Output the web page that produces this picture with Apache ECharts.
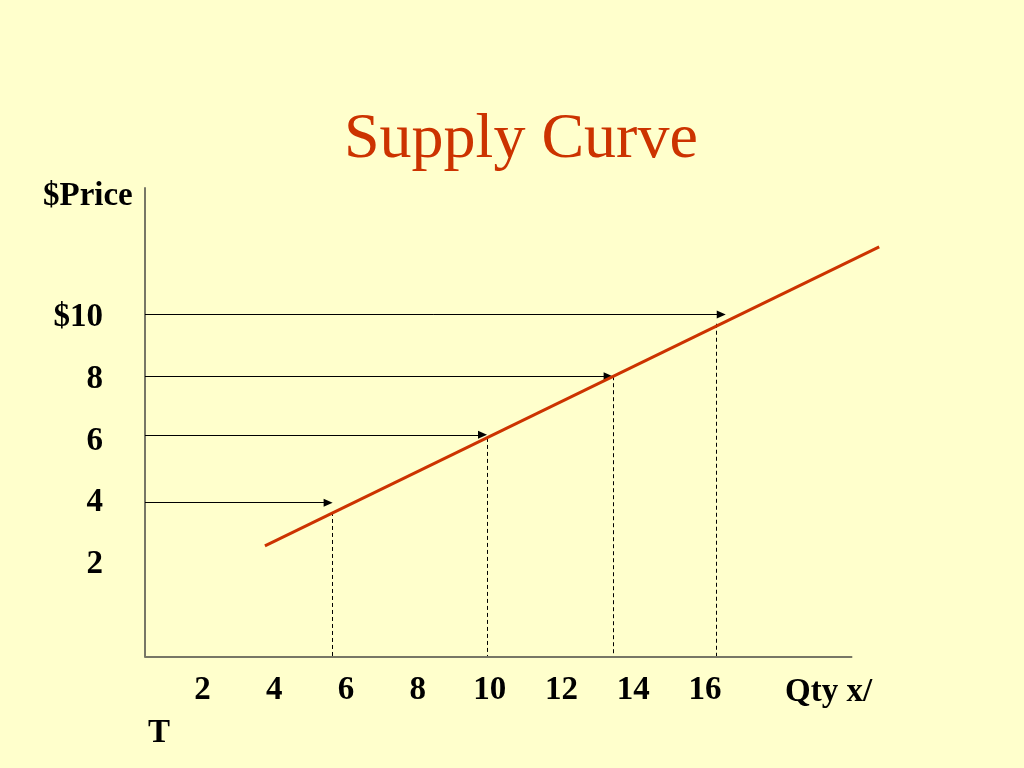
<!DOCTYPE html>
<html>
<head>
<meta charset="utf-8">
<script src="https://cdn.jsdelivr.net/npm/echarts@6/dist/echarts.min.js"></script>
<style>
html,body{margin:0;padding:0;background:#FFFFCC;}
#chart{width:1024px;height:768px;}
</style>
</head>
<body>
<div id="chart"></div>
<script>
// ---- data ----
const qtyLabels = [2, 4, 6, 8, 10, 12, 14, 16];
const priceLabels = [2, 4, 6, 8, 10];
const supplyQty = [3.74, 20.85];
const supplyPrice = [2.6, 12.29];
const arrowPrice = [4.0, 6.2, 8.1, 10.1];
const arrowEndQty = [5.5, 9.8, 13.3, 16.45];
const dashQty = [5.61, 9.93, 13.44, 16.31];
const dashTopPrice = [3.7, 6.1, 8.1, 9.8];
const xAxisEnd = 20.1;

const X_MIN = 0.4, X_MAX = 20.9, Y_MIN = -1, Y_MAX = 14.2;
const FONT = '"Liberation Serif", "Times New Roman", serif';

const chart = echarts.init(document.getElementById('chart'));

const arrowLines = arrowPrice.map((p, i) => [
  { coord: [X_MIN, p] },
  { coord: [arrowEndQty[i], p] }
]);
const dashLines = dashQty.map((q, i) => [
  { coord: [q, dashTopPrice[i]] },
  { coord: [q, Y_MIN] }
]);

const labelStyle = { color: '#000', fontFamily: FONT, fontWeight: 'bold', fontSize: 33 };

chart.setOption({
  backgroundColor: '#FFFFCC',
  animation: false,
  title: [
    { text: 'Supply Curve', left: 339, top: 103,
      textStyle: { color: '#CC3300', fontFamily: FONT, fontWeight: 'normal', fontSize: 64 } },
    { text: '$Price', left: 38, top: 175, textStyle: labelStyle },
    { text: 'Qty x/', left: 780, top: 671, textStyle: labelStyle },
    { text: 'T', left: 143, top: 712, textStyle: labelStyle }
  ],
  grid: { left: 145, right: 143, top: 188, bottom: 111, containLabel: false },
  xAxis: {
    type: 'value', min: X_MIN, max: X_MAX,
    axisLine: { show: false },
    axisTick: { show: false },
    splitLine: { show: false },
    axisLabel: { customValues: qtyLabels, margin: 17, ...labelStyle }
  },
  yAxis: {
    type: 'value', min: Y_MIN, max: Y_MAX,
    axisLine: { show: true, onZero: false, lineStyle: { color: '#777766', width: 2 } },
    axisTick: { show: false },
    splitLine: { show: false },
    axisLabel: { customValues: priceLabels, margin: 42, ...labelStyle,
      formatter: v => (v === 10 ? '$' + v : String(v)) }
  },
  series: [
    {
      type: 'line', clip: false, symbol: 'none', silent: true,
      data: supplyQty.map((q, i) => [q, supplyPrice[i]]),
      lineStyle: { color: '#CC3300', width: 3 },
      z: 5
    },
    {
      type: 'line', data: [], symbol: 'none', silent: true,
      markLine: {
        silent: true, animation: false,
        symbol: ['none', 'triangle'], symbolSize: [8, 9],
        label: { show: false },
        lineStyle: { color: '#000', width: 1, type: 'solid' },
        itemStyle: { color: '#000' },
        emphasis: { disabled: true },
        data: arrowLines
      },
      z: 4
    },
    {
      type: 'line', data: [], symbol: 'none', silent: true,
      markLine: {
        silent: true, animation: false,
        symbol: ['none', 'none'],
        label: { show: false },
        lineStyle: { color: '#000', width: 1, type: [4, 3] },
        emphasis: { disabled: true },
        data: dashLines
      },
      z: 3
    },
    {
      type: 'line', data: [], symbol: 'none', silent: true,
      markLine: {
        silent: true, animation: false,
        symbol: ['none', 'none'],
        label: { show: false },
        lineStyle: { color: '#777766', width: 2, type: 'solid' },
        emphasis: { disabled: true },
        data: [[{ coord: [X_MIN, Y_MIN] }, { coord: [xAxisEnd, Y_MIN] }]]
      },
      z: 2
    }
  ]
});
</script>
</body>
</html>
